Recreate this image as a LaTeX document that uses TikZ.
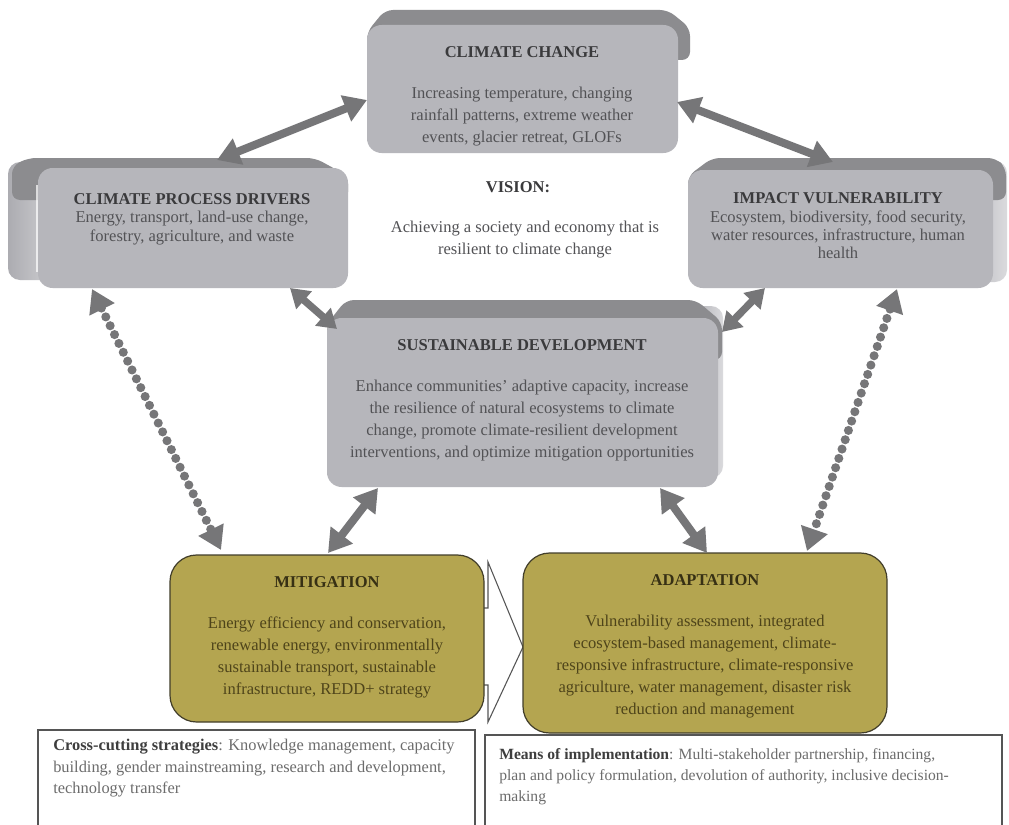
\documentclass[tikz,border=0pt]{standalone}
\usepackage{fontspec}
\setmainfont{Liberation Serif}
\usetikzlibrary{arrows.meta,fit}
\definecolor{boxgray}{RGB}{182,182,187}
\definecolor{bandgray}{RGB}{140,140,143}
\definecolor{plateL}{RGB}{218,218,221}
\definecolor{plateD}{RGB}{172,172,177}
\definecolor{arrowgray}{RGB}{118,118,120}
\definecolor{olive}{RGB}{180,165,80}
\definecolor{olivedraw}{RGB}{66,62,42}
\definecolor{titlecol}{RGB}{58,58,60}
\definecolor{bodycol}{RGB}{82,82,85}
\definecolor{olivetext}{RGB}{78,68,26}
\definecolor{olivetitle}{RGB}{55,48,20}
\definecolor{notecol}{RGB}{108,108,108}
\definecolor{noteboldcol}{RGB}{62,62,62}
\definecolor{chevcol}{RGB}{85,85,85}
\begin{document}
\begin{tikzpicture}[x=0.75pt,y=-0.75pt,
  face/.style={fill=boxgray, draw=none, rounded corners=11pt, inner sep=0pt},
  band/.style={fill=bandgray, rounded corners=6pt},
  oliveface/.style={fill=olive, draw=olivedraw, line width=0.9pt, rounded corners=20pt, inner sep=0pt},
  notebox/.style={draw=chevcol, line width=0.8pt, fill=white, inner sep=0pt},
  txt/.style={align=center, inner sep=0pt, text=bodycol, font=\fontsize{12.4}{16.5}\selectfont},
  titletxt/.style={txt, text=titlecol, font=\fontsize{12.4}{16.5}\selectfont\bfseries},
  tighttxt/.style={txt, font=\fontsize{12.4}{13.8}\selectfont},
  olivetxt/.style={txt, text=olivetext},
  olivetitletxt/.style={txt, text=olivetitle, font=\fontsize{12.4}{16.5}\selectfont\bfseries},
  notetxt/.style={align=left, inner sep=0pt, text=notecol, font=\fontsize{12.3}{16.2}\selectfont},
  notetxtb/.style={notetxt, font=\fontsize{11.7}{16}\selectfont},
  bigarrow/.style={draw=arrowgray, line width=6pt, {Triangle[width=20pt,length=17pt]}-{Triangle[width=20pt,length=17pt]}},
  shortarrow/.style={draw=arrowgray, line width=5.5pt, {Triangle[width=17pt,length=14pt]}-{Triangle[width=17pt,length=14pt]}},
  dotarrow/.style={draw=arrowgray, line width=6.8pt, line cap=round, dash pattern=on 0pt off 7.4pt, {Triangle[width=20pt,length=17pt]}-{Triangle[width=20pt,length=17pt]}}
]
\useasboundingbox (0,0) rectangle (1009,824);
\fill[white] (0,0) rectangle (1009,824);

% ---------- CLIMATE CHANGE ----------
\fill[band] (367,32) -- (385,10) -- (668,10) -- (690,28) -- (690,60) -- (367,60) -- cycle;
\node[face, fit={(367,25)(678,153)}] (cc) {};
\node[titletxt] (cct) at (522,52) {CLIMATE CHANGE};
\node[txt] (ccb) at (522,117) {Increasing temperature, changing\\rainfall patterns, extreme weather\\events, glacier retreat, GLOFs};

% ---------- CLIMATE PROCESS DRIVERS ----------
\shade[left color=plateD, right color=plateL, rounded corners=9pt] (8,162) rectangle (70,280);
\fill[band] (12,166) -- (28,158) -- (315,158) -- (348,176) -- (348,200) -- (12,200) -- cycle;
\node[face, fit={(38,168)(348,288)}] (cpd) {};
\draw[white, line width=1pt, opacity=0.7] (37,185) -- (37,272);
\node[tighttxt] (cpdt) at (192,219) {{\color{titlecol}\bfseries CLIMATE PROCESS DRIVERS}\\Energy, transport, land-use change,\\forestry, agriculture, and waste};

% ---------- IMPACT VULNERABILITY ----------
\shade[left color=plateD, right color=plateL, rounded corners=9pt] (950,161) rectangle (1007,282);
\fill[band] (688,176) -- (712,158) -- (996,158) -- (1006,168) -- (1006,200) -- (688,200) -- cycle;
\node[face, fit={(688,170)(993,288)}] (iv) {};
\node[tighttxt] (ivt) at (838,226) {{\color{titlecol}\bfseries IMPACT VULNERABILITY}\\Ecosystem, biodiversity, food security,\\water resources, infrastructure, human\\health};

% ---------- VISION ----------
\node[titletxt] (vis) at (518,187) {VISION:};
\node[txt] (visb) at (525,240) {Achieving a society and economy that is\\resilient to climate change};

% ---------- SUSTAINABLE DEVELOPMENT ----------
\shade[left color=plateD, right color=plateL, rounded corners=9pt] (690,306) rectangle (723,478);
\fill[band] (327,324) -- (346,300) -- (696,300) -- (722,322) -- (722,360) -- (327,360) -- cycle;
\node[face, fit={(327,318)(718,487)}] (sd) {};
\node[titletxt] (sdt) at (522,345) {SUSTAINABLE DEVELOPMENT};
\node[txt] (sdb) at (522,421) {Enhance communities' adaptive capacity, increase\\the resilience of natural ecosystems to climate\\change, promote climate-resilient development\\interventions, and optimize mitigation opportunities};

% ---------- chevron ----------
\filldraw[fill=white, draw=chevcol, line width=0.8pt] (470,608) -- (488,608) -- (488,562) -- (523,647) -- (488,722) -- (488,685) -- (470,685) -- cycle;

% ---------- MITIGATION ----------
\node[oliveface, fit={(170,555)(484,722)}] (mit) {};
\node[olivetitletxt] (mitt) at (327,582) {MITIGATION};
\node[olivetxt] (mitb) at (327,657) {Energy efficiency and conservation,\\renewable energy, environmentally\\sustainable transport, sustainable\\infrastructure, REDD+ strategy};

% ---------- ADAPTATION ----------
\node[oliveface, fit={(523,553)(887,733)}] (ada) {};
\node[olivetitletxt] (adat) at (705,580) {ADAPTATION};
\node[olivetxt] (adab) at (705,667) {Vulnerability assessment, integrated\\ecosystem-based management, climate-\\responsive infrastructure, climate-responsive\\agriculture, water management, disaster risk\\reduction and management};

% ---------- notes ----------
\node[notebox, fit={(38,730)(475,840)}] (cross) {};
\node[notetxt, anchor=north west] (crosst) at (53,739) {{\color{noteboldcol}\bfseries Cross-cutting strategies}: Knowledge management, capacity\\building, gender mainstreaming, research and development,\\technology transfer};
\node[notebox, fit={(485,735)(1002,840)}] (means) {};
\node[notetxtb, anchor=north west] (meanst) at (499,748) {{\color{noteboldcol}\bfseries Means of implementation}: Multi-stakeholder partnership, financing,\\plan and policy formulation, devolution of authority, inclusive decision-\\making};

% ---------- connectors ----------
\coordinate (p1) at (217,160); \coordinate (p2) at (367,100);
\coordinate (p3) at (677,102); \coordinate (p4) at (833,162);
\coordinate (p5) at (290,288); \coordinate (p6) at (337,329);
\coordinate (p7) at (765,288); \coordinate (p8) at (722,332);
\coordinate (p9) at (378,488); \coordinate (p10) at (328,553);
\coordinate (p11) at (660,488); \coordinate (p12) at (707,553);
\coordinate (p13) at (92,289); \coordinate (p14) at (221,550);
\coordinate (p15) at (897,289); \coordinate (p16) at (807,551);
\draw[bigarrow] (p1) -- (p2);
\draw[bigarrow] (p3) -- (p4);
\draw[shortarrow] (p5) -- (p6);
\draw[shortarrow] (p7) -- (p8);
\draw[bigarrow] (p9) -- (p10);
\draw[bigarrow] (p11) -- (p12);
\draw[dotarrow] (p13) -- (p14);
\draw[dotarrow] (p15) -- (p16);
\end{tikzpicture}
\end{document}
